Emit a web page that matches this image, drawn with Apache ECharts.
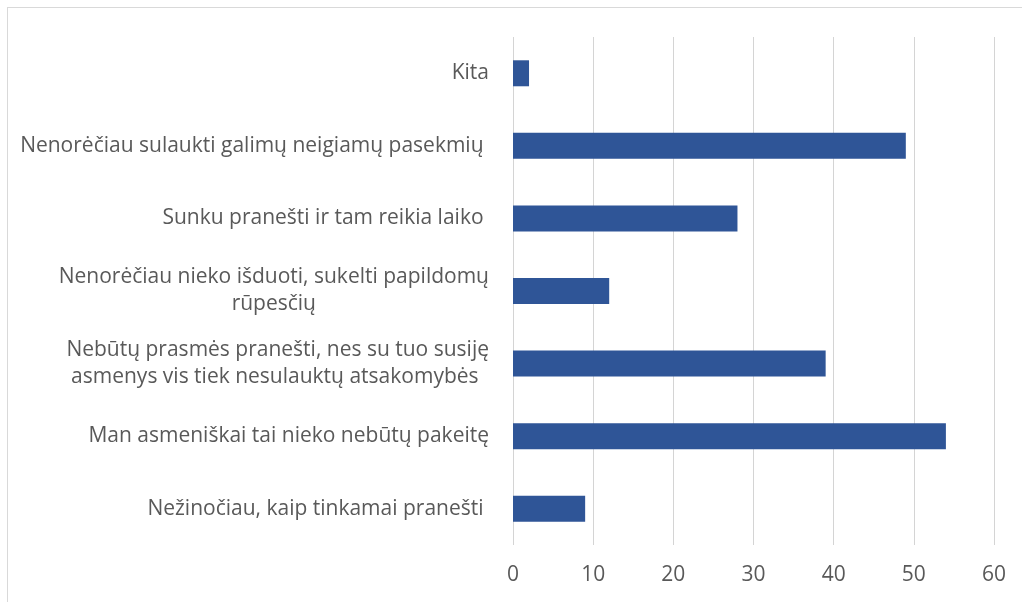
<!DOCTYPE html>
<html>
<head>
<meta charset="utf-8">
<script src="https://cdn.jsdelivr.net/npm/echarts@6/dist/echarts.min.js"></script>
<style>
  html, body { margin: 0; padding: 0; background: #fff; }
  #frame { position: absolute; left: 7px; top: 7px; width: 1030px; height: 610px; border: 1px solid #d9d9d9; box-sizing: border-box; }
  #chart { position: absolute; left: 0; top: 0; width: 1022px; height: 602px; }
</style>
</head>
<body>
<div id="frame"></div>
<div id="chart"></div>
<script>
// categories listed bottom to top (as in the picture)
var categories = [
    'Nežinočiau, kaip tinkamai pranešti ',
    'Man asmeniškai tai nieko nebūtų pakeitę',
    'Nebūtų prasmės pranešti, nes su tuo susiję\nasmenys vis tiek nesulauktų atsakomybės ',
    'Nenorėčiau nieko išduoti, sukelti papildomų\nrūpesčių',
    'Sunku pranešti ir tam reikia laiko ',
    'Nenorėčiau sulaukti galimų neigiamų pasekmių ',
    'Kita'
];
var values = [9, 54, 39, 12, 28, 49, 2];
var xTicks = [0, 10, 20, 30, 40, 50, 60];

var ctx = document.createElement('canvas').getContext('2d');
ctx.font = '21px "Open Sans"';

// each line of a wrapped label gets its own style, padded so the lines sit centred
var rich = {};
categories.forEach(function (c, i) {
    var lines = c.split('\n');
    var widths = lines.map(function (s) { return ctx.measureText(s).width; });
    var w = Math.max.apply(null, widths);
    lines.forEach(function (s, j) {
        rich['l' + i + '_' + j] = {
            align: 'right',
            padding: [0, Math.round((w - widths[j]) / 2), 0, 0],
            color: '#595959', fontFamily: 'Open Sans', fontSize: 21, lineHeight: 27
        };
    });
});

var myChart = echarts.init(document.getElementById('chart'));
var option = {
    animation: false,
    grid: { left: 513, right: 28, top: 37, bottom: 57 },
    xAxis: {
        type: 'value',
        min: xTicks[0],
        max: xTicks[xTicks.length - 1],
        interval: 10,
        axisLine: { show: false },
        axisTick: { show: false },
        splitLine: { lineStyle: { color: '#d4d4d4', width: 1 } },
        axisLabel: {
            color: '#595959',
            fontFamily: 'Open Sans',
            fontSize: 21,
            margin: 20
        }
    },
    yAxis: {
        type: 'category',
        data: categories,
        axisLine: { show: false },
        axisTick: { show: false },
        axisLabel: {
            color: '#595959',
            fontFamily: 'Open Sans',
            fontSize: 21,
            margin: 24,
            lineHeight: 27,
            formatter: function (v) {
                var i = categories.indexOf(v);
                return v.split('\n').map(function (s, j) { return '{l' + i + '_' + j + '|' + s + '}'; }).join('\n');
            },
            rich: rich
        }
    },
    series: [{
        type: 'bar',
        data: values,
        barWidth: 26,
        itemStyle: { color: '#2f5597' }
    }]
};
myChart.setOption(option);
</script>
</body>
</html>
